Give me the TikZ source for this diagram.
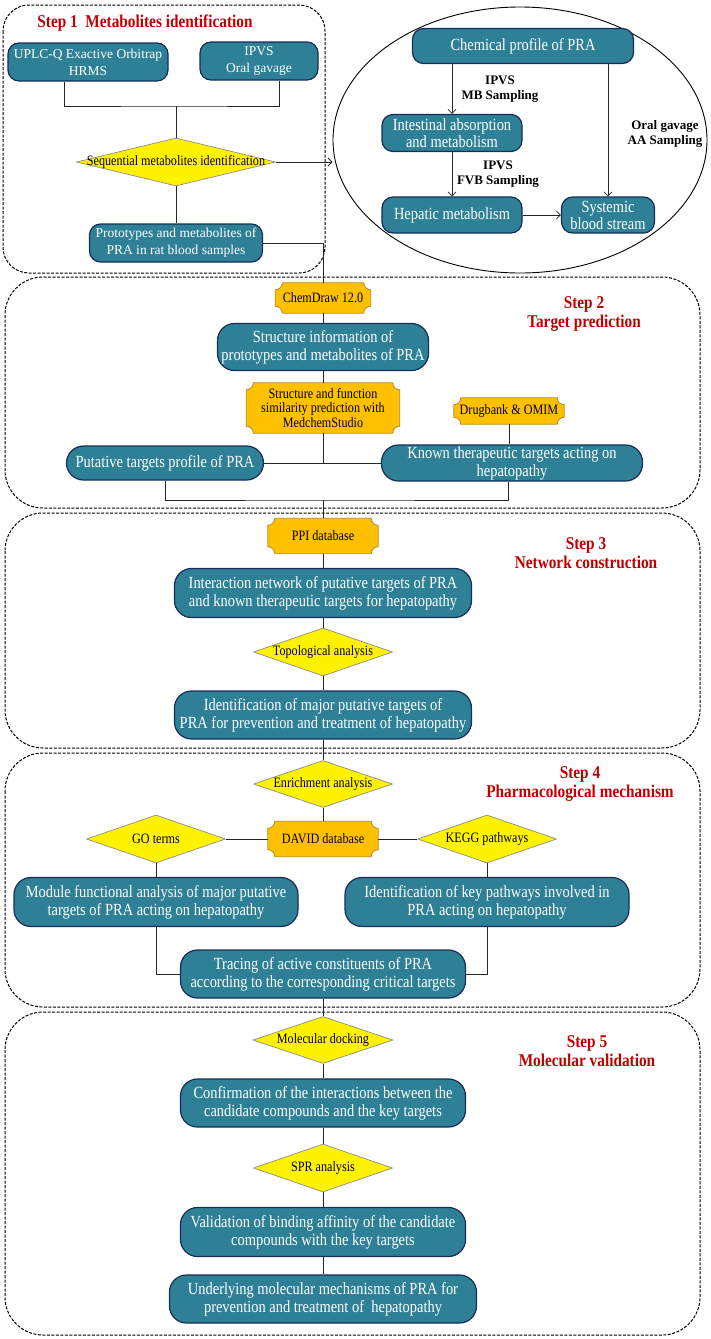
\documentclass[tikz,border=0pt]{standalone}
\usepackage{fontspec}
\setmainfont{Liberation Serif}
\newfontfamily\condfont[FakeStretch=0.85]{Liberation Serif}
\usetikzlibrary{shapes.geometric,arrows.meta,calc,backgrounds}

\definecolor{TealFill}{RGB}{46,128,151}
\definecolor{NavyLine}{RGB}{24,44,88}
\definecolor{PlaqueFill}{RGB}{255,192,0}
\definecolor{PlaqueLine}{RGB}{185,135,30}
\definecolor{StepRed}{RGB}{192,0,0}

% orange database label with concave corners
\newcommand{\drawplaque}[1]{%
  \begin{scope}[on background layer]
    \draw[plaqueline] ($(#1.north west)+(7pt,0)$) -- ($(#1.north east)+(-7pt,0)$)
      arc[start angle=180,end angle=270,radius=7pt] -- ($(#1.south east)+(0,7pt)$)
      arc[start angle=90,end angle=180,radius=7pt] -- ($(#1.south west)+(7pt,0)$)
      arc[start angle=0,end angle=90,radius=7pt] -- ($(#1.north west)+(0,-7pt)$)
      arc[start angle=270,end angle=360,radius=7pt] -- cycle;
  \end{scope}}

\begin{document}
\begin{tikzpicture}[x=1pt, y=1pt,
  stepframe/.style={draw=black, dash pattern=on 3pt off 1.5pt, line width=1pt, rounded corners=38pt},
  tealbox/.style={rectangle, draw=NavyLine, fill=TealFill, line width=1.2pt, rounded corners=17pt, text=white, align=center, inner sep=1pt, font=\condfont\fontsize{17}{18}\selectfont},
  smallbox/.style={tealbox, rounded corners=11pt, font=\fontsize{13.5}{17}\selectfont},
  routebox/.style={tealbox, rounded corners=11pt, font=\condfont\fontsize{17}{17}\selectfont},
  yellowdia/.style={diamond, draw=black!45, fill=yellow, line width=0.7pt, inner sep=0pt, font=\condfont\fontsize{14.3}{15}\selectfont},
  orangeplq/.style={rectangle, inner sep=0pt, align=center, font=\condfont\fontsize{14.3}{14.5}\selectfont},
  plaqueline/.style={draw=PlaqueLine, fill=PlaqueFill, line width=0.8pt},
  steptitle/.style={text=StepRed, align=center, font=\condfont\bfseries\fontsize{18}{19}\selectfont},
  note/.style={align=center, font=\bfseries\fontsize{13}{15.5}\selectfont},
  link/.style={draw=black!85, line width=0.8pt},
  arr/.style={link, -{Straight Barb[length=4pt,width=8pt]}},
]
\useasboundingbox (0,0) rectangle (710,-1339);

% Step frames
\draw[stepframe, rounded corners=26pt] (3,-5) rectangle (325,-273);
\draw[stepframe] (5,-277) rectangle (700,-508);
\draw[stepframe] (5,-513) rectangle (700,-748);
\draw[stepframe] (5,-753) rectangle (700,-1007);
\draw[stepframe] (5,-1012) rectangle (700,-1335);

% Step 1
\node[steptitle] (t1) at (145,-23) {Step 1\ \ Metabolites identification};
\node[smallbox, minimum width=160pt, minimum height=38pt] (uplc) at (88,-62) {UPLC-Q Exactive Orbitrap\\HRMS};
\node[smallbox, minimum width=118pt, minimum height=38pt] (ipvs) at (259,-61) {IPVS\\Oral gavage};
\node[yellowdia, minimum width=199pt, minimum height=48pt] (seqid) at (176,-162) {\makebox[0pt]{Sequential metabolites identification}};
\node[smallbox, minimum width=173pt, minimum height=38pt] (proto) at (176,-243) {Prototypes and metabolites of\\PRA in rat blood samples};
\coordinate (join1) at (176,-106);
\draw[link] ($(uplc.south)+(-24,0)$) |- (join1) -| ($(ipvs.south)+(20,0)$);
\draw[link] (join1) -- (seqid.north);
\draw[link] (seqid) -- (proto);

% absorption route
\node[draw, ellipse, line width=0.9pt, inner sep=0pt, minimum width=374pt, minimum height=266pt] (route) at (520,-140) {};
\node[routebox, minimum width=221pt, minimum height=35pt] (chem) at (523,-46) {Chemical profile of PRA};
\node[routebox, minimum width=140pt, minimum height=37pt] (intes) at (452,-133) {Intestinal absorption\\and metabolism};
\node[routebox, minimum width=140pt, minimum height=36pt] (hepa) at (452,-215) {Hepatic metabolism};
\node[routebox, minimum width=93pt, minimum height=36pt] (syst) at (608,-215) {Systemic\\blood stream};
\node[note] (mbs) at (500,-89) {IPVS\\MB Sampling};
\node[note] (fvbs) at (498,-174) {IPVS\\FVB Sampling};
\node[note] (aas) at (665,-134) {Oral gavage\\AA Sampling};
\draw[arr] (chem.south -| intes.north) -- (intes.north);
\draw[arr] (intes) -- (hepa);
\draw[arr] (hepa) -- (syst);
\draw[arr] (chem.south -| syst.north) -- (syst.north);
\draw[arr] (seqid.east) -- (seqid.east -| route.west);

% Step 2
\node[steptitle] (t2) at (584,-314) {Step 2\\Target prediction};
\node[orangeplq, minimum width=95pt, minimum height=30pt] (chemd) at (323,-298) {ChemDraw 12.0};
\node[tealbox, minimum width=211pt, minimum height=47pt] (struct) at (323,-347) {Structure information of\\prototypes and metabolites of PRA};
\node[orangeplq, minimum width=153pt, minimum height=50pt] (simpred) at (323,-408) {Structure and function\\similarity prediction with\\MedchemStudio};
\node[orangeplq, minimum width=110pt, minimum height=26pt] (drugb) at (509,-411) {Drugbank \& OMIM};
\node[tealbox, minimum width=197pt, minimum height=34pt] (putat) at (165,-463) {Putative targets profile of PRA};
\node[tealbox, minimum width=261pt, minimum height=36pt] (known) at (512,-463) {Known therapeutic targets acting on\\hepatopathy};
\drawplaque{chemd}
\drawplaque{simpred}
\drawplaque{drugb}
\coordinate (mid2) at (323,-463);
\coordinate (merge2) at (323,-500);
\draw[link] (proto.east) -| (chemd.north);
\draw[link] (chemd) -- (struct);
\draw[link] (struct) -- (simpred);
\draw[link] (simpred) -- (mid2);
\draw[link] (putat) -- (known);
\draw[link] (drugb.south) -- (drugb.south |- known.north);
\draw[link] (putat.south) |- (merge2) -| ($(known.south)+(-4,0)$);

% Step 3
\node[steptitle] (t3) at (586,-553) {Step 3\\Network construction};
\node[orangeplq, minimum width=110pt, minimum height=35pt] (ppi) at (323,-536) {PPI database};
\node[tealbox, minimum width=297pt, minimum height=49pt] (inet) at (323,-593) {Interaction network of putative targets of PRA\\and known therapeutic targets for hepatopathy};
\node[yellowdia, minimum width=139pt, minimum height=48pt] (topo) at (323,-652) {\makebox[0pt]{Topological analysis}};
\node[tealbox, minimum width=297pt, minimum height=48pt] (major) at (323,-715) {Identification of major putative targets of\\PRA for prevention and treatment of hepatopathy};
\drawplaque{ppi}
\draw[link] (merge2) -- (ppi.north);
\draw[link] (ppi) -- (inet);
\draw[link] (inet) -- (topo);
\draw[link] (topo) -- (major);

% Step 4
\node[steptitle] (t4) at (580,-784) {Step 4\\Pharmacological mechanism};
\node[yellowdia, minimum width=139pt, minimum height=47pt] (enrich) at (323,-784) {\makebox[0pt]{Enrichment analysis}};
\node[orangeplq, minimum width=110pt, minimum height=35pt] (david) at (323,-839) {DAVID database};
\node[yellowdia, minimum width=139pt, minimum height=48pt] (goterm) at (156,-839) {\makebox[0pt]{GO terms}};
\node[yellowdia, minimum width=139pt, minimum height=48pt] (kegg) at (487,-839) {\makebox[0pt]{KEGG pathways}};
\node[tealbox, minimum width=284pt, minimum height=49pt] (modfun) at (156,-902) {Module functional analysis of major putative\\targets of PRA acting on hepatopathy};
\node[tealbox, minimum width=284pt, minimum height=49pt] (keypath) at (487,-902) {Identification of key pathways involved in\\PRA acting on hepatopathy};
\node[tealbox, minimum width=285pt, minimum height=48pt] (trace) at (323,-974) {Tracing of active constituents of PRA\\according to the corresponding critical targets};
\drawplaque{david}
\draw[link] (major) -- (enrich);
\draw[link] (enrich) -- (david);
\draw[link] (goterm) -- (david);
\draw[link] (david) -- (kegg);
\draw[link] (goterm) -- (modfun);
\draw[link] (kegg) -- (keypath);
\draw[link] (modfun.south) |- (trace.west);
\draw[link] (keypath.south) |- (trace.east);

% Step 5
\node[steptitle] (t5) at (587,-1051) {Step 5\\Molecular validation};
\node[yellowdia, minimum width=140pt, minimum height=47pt] (dock) at (323,-1040) {\makebox[0pt]{Molecular docking}};
\node[tealbox, minimum width=285pt, minimum height=48pt] (confirm) at (323,-1103) {Confirmation of the interactions between the\\candidate compounds and the key targets};
\node[yellowdia, minimum width=139pt, minimum height=48pt] (spr) at (323,-1168) {\makebox[0pt]{SPR analysis}};
\node[tealbox, minimum width=285pt, minimum height=49pt] (valid) at (323,-1232) {Validation of binding affinity of the candidate\\compounds with the key targets};
\node[tealbox, minimum width=307pt, minimum height=48pt] (underly) at (323,-1299) {Underlying molecular mechanisms of PRA for\\prevention and treatment of\ \ hepatopathy};
\draw[link] (trace) -- (dock);
\draw[link] (dock) -- (confirm);
\draw[link] (confirm) -- (spr);
\draw[link] (spr) -- (valid);
\draw[link] (valid) -- (underly);
\end{tikzpicture}
\end{document}
